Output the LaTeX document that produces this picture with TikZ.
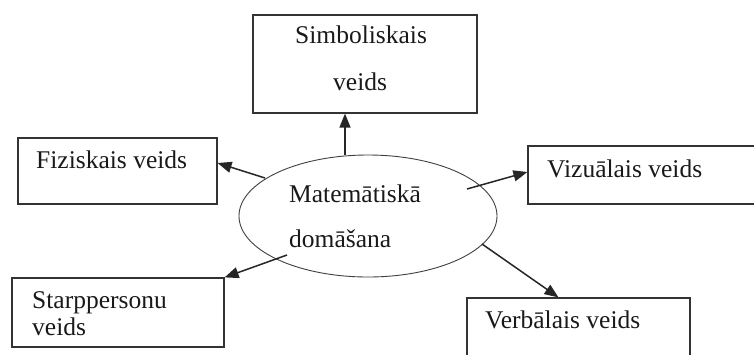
\documentclass[tikz,border=0pt]{standalone}
\usepackage{fontspec}
\setmainfont{Liberation Serif}
\usetikzlibrary{arrows.meta}
\begin{document}
\begin{tikzpicture}[x=1pt,y=-1pt,
  box/.style={draw=black!80,line width=1.2pt,rectangle,inner sep=0pt},
  lbl/.style={anchor=base west,inner sep=0pt,text=black!90,font=\fontsize{25.5}{30}\selectfont},
  arr/.style={draw=black!85,line width=1.5pt,-{Triangle[length=14pt,width=11pt]}}]
\useasboundingbox (0,0) rectangle (754,354);
\clip (0,0) rectangle (754,354);
% boxes
\node[box,minimum width=224pt,minimum height=98pt] (sim) at (365,64) {};
\node[box,minimum width=199pt,minimum height=66pt] (fiz) at (117.5,171) {};
\node[box,minimum width=240pt,minimum height=58pt] (viz) at (648,175) {};
\node[box,minimum width=212pt,minimum height=69pt] (starp) at (118,312.5) {};
\node[box,minimum width=223pt,minimum height=80pt] (verb) at (578.5,338) {};
% ellipse
\draw[draw=black!75,line width=0.9pt] (368,216) ellipse [x radius=129,y radius=61];
\node[inner sep=0pt] (mat) at (368,216) {};
% texts
\node[lbl] (t-sim1) at (295,43) {Simboliskais};
\node[lbl] (t-sim2) at (333,90) {veids};
\node[lbl] (t-fiz) at (36,168) {Fiziskais veids};
\node[lbl] (t-viz) at (547,177) {Vizuālais veids};
\node[lbl] (t-mat1) at (289,202) {Matemātiskā};
\node[lbl] (t-mat2) at (289,247) {domāšana};
\node[lbl] (t-starp1) at (32,308) {Starppersonu};
\node[lbl] (t-starp2) at (32,335) {veids};
\node[lbl] (t-verb) at (485,328) {Verbālais veids};
% arrow tails
\coordinate (a1) at (345,155);
\coordinate (a2) at (265,178);
\coordinate (a3) at (467,189);
\coordinate (a4) at (287,255);
\coordinate (a5) at (482,244);
% arrows
\draw[arr] (a1) -- (a1 |- sim.south);
\draw[arr] (a2) -- ([yshift=8pt]fiz.east);
\draw[arr] (a3) -- ([yshift=3pt]viz.west);
\draw[arr] (a4) -- (starp.north east);
\draw[arr] (a5) -- ([xshift=-20pt]verb.north);
\end{tikzpicture}
\end{document}
